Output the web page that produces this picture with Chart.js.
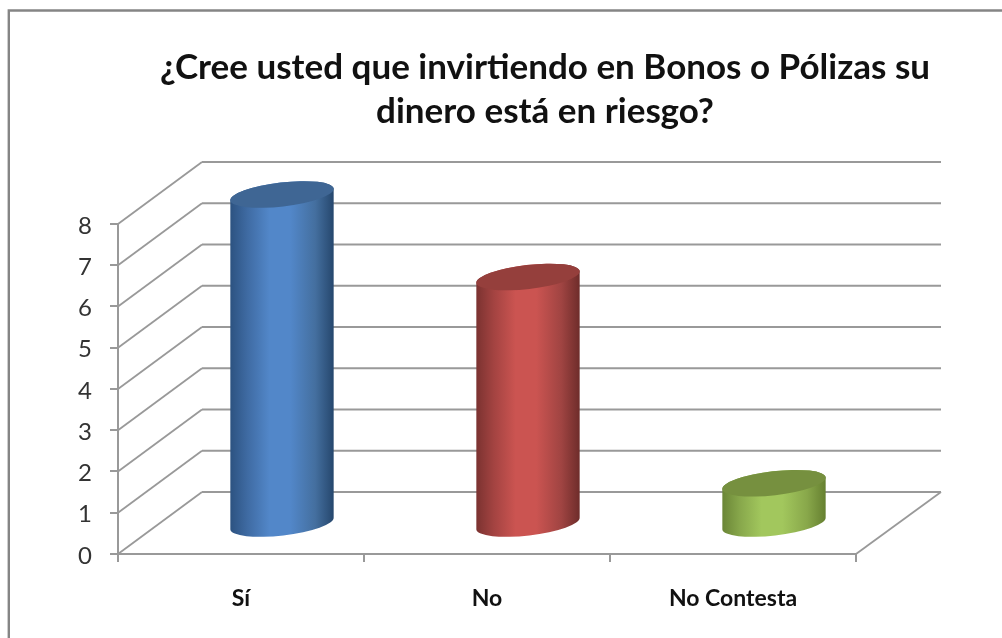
<!DOCTYPE html>
<html><head><meta charset="utf-8">
<script src="https://cdn.jsdelivr.net/npm/chart.js@4"></script>
<style>html,body{margin:0;padding:0;background:#fff;overflow:hidden}#wrap{width:1002px;height:638px;position:relative;overflow:hidden}canvas{filter:blur(0.45px)}</style>
</head><body><div id="wrap"><canvas id="c" width="1002" height="638"></canvas></div>
<script>
const categories = ['Sí', 'No', 'No Contesta'];
const seriesValues = [8, 6, 1];
const yTicks = [0, 1, 2, 3, 4, 5, 6, 7, 8];
const titleLines = ['¿Cree usted que invirtiendo en Bonos o Pólizas su', 'dinero está en riesgo?'];
const barColors = ['#4f81bd', '#c0504d', '#9bbb59'];

const DEPTH_X = 84, DEPTH_Y = 62, GRID = '#999999';
const shades = [
  {edgeL:'#2c5280', l:'#3f6ba3', mid:'#5287c9', r:'#446f9f', edgeR:'#25466c', top:'#3f6694'},
  {edgeL:'#7a3230', l:'#a34341', mid:'#cb5451', r:'#a04442', edgeR:'#6d2c2a', top:'#953f3c'},
  {edgeL:'#6a8536', l:'#87a74b', mid:'#a2c75d', r:'#88a74a', edgeR:'#657f30', top:'#76903f'}
];

const frame = {
  id:'frame',
  beforeDraw(chart){
    const c = chart.ctx;
    c.save();
    c.fillStyle='#fff'; c.fillRect(0,0,chart.width,chart.height);
    c.strokeStyle='#858585'; c.lineWidth=2.4;
    c.beginPath(); c.moveTo(8.8,640); c.lineTo(8.8,10.5); c.lineTo(1004,10.5); c.stroke();
    c.restore();
  }
};

const walls = {
  id:'walls',
  beforeDatasetsDraw(chart){
    const c = chart.ctx, y = chart.scales.y, a = chart.chartArea;
    c.save();
    c.strokeStyle = GRID; c.lineJoin='round';
    yTicks.forEach(v=>{
      const p = y.getPixelForValue(v);
      c.lineWidth=1.8;
      c.beginPath(); c.moveTo(a.left,p); c.lineTo(a.left+DEPTH_X,p-DEPTH_Y); c.stroke();
      c.lineWidth=2;
      c.beginPath(); c.moveTo(a.left+DEPTH_X,p-DEPTH_Y); c.lineTo(a.right+DEPTH_X+1,p-DEPTH_Y); c.stroke();
    });
    const b = y.getPixelForValue(0);
    c.lineWidth=1.8;
    c.beginPath(); c.moveTo(a.right,b); c.lineTo(a.right+DEPTH_X+1,b-DEPTH_Y); c.stroke();
    c.restore();
  }
};

const cylinders = {
  id:'cylinders',
  beforeDatasetDraw(chart,args){
    const c = chart.ctx;
    args.meta.data.forEach((el,i)=>{
      const s = shades[i];
      const p = el.getProps(['x','y','base','width'],true);
      const cx = p.x + 41, top = p.y - 29.5, bot = p.base - 29.5;
      const rx = p.width/2, ry = 12, rot = -0.115;
      const g = c.createLinearGradient(cx-rx,0,cx+rx,0);
      g.addColorStop(0,s.edgeL); g.addColorStop(0.17,s.l); g.addColorStop(0.38,s.mid);
      g.addColorStop(0.58,s.mid); g.addColorStop(0.82,s.r); g.addColorStop(1,s.edgeR);
      c.save();
      c.fillStyle=g;
      c.beginPath();
      c.ellipse(cx,bot,rx,ry,rot,0,Math.PI,false);
      c.ellipse(cx,top,rx,ry,rot,Math.PI,2*Math.PI,false);
      c.closePath(); c.fill();
      c.fillStyle=s.top;
      c.beginPath(); c.ellipse(cx,top,rx,ry,rot,0,2*Math.PI); c.fill();
      c.restore();
    });
    return false;
  }
};

const titleShift = {
  id:'titleShift',
  afterLayout(chart){
    const t = chart.titleBlock;
    t.left = 90; t.right = 1000;
  }
};

new Chart(document.getElementById('c'),{
  type:'bar',
  data:{labels:categories,datasets:[{data:seriesValues,backgroundColor:barColors,barThickness:104}]},
  plugins:[frame,walls,cylinders,titleShift],
  options:{
    responsive:false,animation:false,
    layout:{padding:{left:0,right:146,top:0,bottom:0}},
    plugins:{
      legend:{display:false},tooltip:{enabled:false},
      title:{display:true,text:titleLines,color:'#111',
        font:{family:'Lato',size:35,weight:'bold',lineHeight:1.257},
        padding:{top:46,bottom:90}}
    },
    scales:{
      x:{
        afterFit(s){s.height=84;},
        grid:{drawOnChartArea:false,color:GRID,lineWidth:2,tickLength:8},
        border:{color:GRID,width:2},
        ticks:{color:'#111',font:{family:'Lato',size:23,weight:'bold'},padding:23,maxRotation:0}
      },
      y:{
        min:0,max:8,
        afterFit(s){s.width=118;},
        afterBuildTicks(s){s.ticks=yTicks.map(v=>({value:v}));},
        grid:{drawOnChartArea:false,color:GRID,lineWidth:2,tickLength:8},
        border:{color:GRID,width:2},
        ticks:{color:'#333',font:{family:'Lato',size:24},padding:18,labelOffset:2}
      }
    }
  }
});
</script></body></html>
